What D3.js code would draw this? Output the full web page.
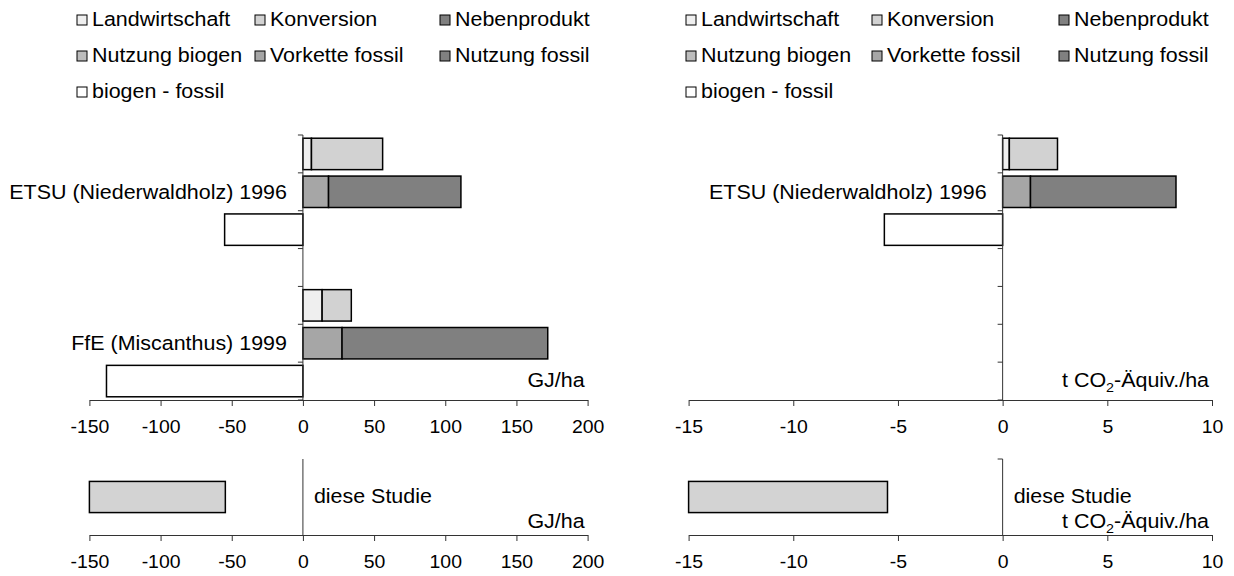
<!DOCTYPE html>
<html><head><meta charset="utf-8">
<script src="https://cdn.jsdelivr.net/npm/d3@7"></script>
<style>body{margin:0;background:#fff}svg{display:block}text{font-family:"Liberation Sans",Arial,sans-serif;fill:#000}</style>
</head><body><svg id="c" width="1234" height="576"></svg>
<script>
// ---------- data ----------
const studies = ["ETSU (Niederwaldholz) 1996", "FfE (Miscanthus) 1999"];
const legendLabels = ["Landwirtschaft","Konversion","Nebenprodukt","Nutzung biogen","Vorkette fossil","Nutzung fossil","biogen - fossil"];
const legendColors = ["#efefef","#d2d2d2","#808080","#bdbdbd","#a6a6a6","#808080","#ffffff"];
// energy, GJ/ha (per study)
const landwirtschaftGJ = [6, 13.5];
const konversionGJ = [50, 20.5];
const vorketteFossilGJ = [18, 27.5];
const nutzungFossilGJ = [93, 144.5];
const biogenMinusFossilGJ = [-55, -138];
// greenhouse gases, t CO2-Äquiv./ha (FfE not reported)
const landwirtschaftCO2 = [0.32, null];
const konversionCO2 = [2.3, null];
const vorketteFossilCO2 = [1.33, null];
const nutzungFossilCO2 = [6.95, null];
const biogenMinusFossilCO2 = [-5.65, null];
// this study: range
const dieseStudieGJ = [-150, -54.5];
const dieseStudieCO2 = [-15, -5.5];
const ticksGJ = [-150,-100,-50,0,50,100,150,200];
const ticksCO2 = [-15,-10,-5,0,5,10];
const rowIds = ["s0-bio","s0-fos","s0-diff","gap","s1-bio","s1-fos","s1-diff"];

const svg = d3.select("#c");
const FS = 19.5, SX = 1.1, TFS = 18, TSX = 1.08;
const AX = "#333";

function addText(g, x, y, str, anchor) {
  return g.append("text")
    .attr("transform", `translate(${x},${y}) scale(${SX},1)`)
    .attr("text-anchor", anchor || "start").attr("dy", "0.35em")
    .attr("font-size", FS).text(str);
}

function legend(cols) {
  const g = svg.append("g");
  legendLabels.forEach((lab, i) => {
    const r = Math.floor(i / 3), c = i % 3;
    const tx = cols[c], base = 26 + r * 36;
    g.append("rect").attr("x", tx - 15).attr("y", base - 11).attr("width", 10).attr("height", 10)
      .attr("fill", legendColors[i]).attr("stroke", "#000").attr("stroke-width", 1);
    g.append("text").attr("transform", `translate(${tx},${base}) scale(${SX},1)`)
      .attr("font-size", FS).text(lab);
  });
}

function styleAxis(axg) {
  axg.select(".domain").attr("stroke", AX);
  axg.selectAll(".tick line").attr("stroke", AX);
  axg.selectAll("text").attr("font-size", TFS).attr("font-family", "Liberation Sans, Arial, sans-serif")
    .attr("fill", "#000").attr("y", 0).attr("dy", "0.35em")
    .attr("transform", `translate(0,27) scale(${TSX},1)`);
}

function unitLabel(g, xr, yc, unit) {
  const t = g.append("text").attr("transform", `translate(${xr},${yc}) scale(${SX},1)`)
    .attr("dy", "0.35em").attr("text-anchor", "end").attr("font-size", FS);
  if (unit === "GJ") { t.text("GJ/ha"); return; }
  t.append("tspan").text("t CO");
  t.append("tspan").attr("font-size", 13).attr("dy", 5).text("2");
  t.append("tspan").attr("dy", -5).text("-Äquiv./ha");
}

function panel(opts) {
  const x = d3.scaleLinear().domain(opts.domain).range(opts.range);
  const y = d3.scaleBand().domain(rowIds).range([135, 400]).paddingInner(0.17).paddingOuter(0.085);
  const g = svg.append("g");
  const segs = [];
  opts.studies.forEach((s, i) => {
    if (opts.biogen[0][i] == null) return;
    let acc = 0;
    opts.biogen.forEach((arr, k) => { const v = arr[i]; segs.push({row:"s"+i+"-bio", a:acc, b:acc+v, c:opts.bioColors[k]}); acc += v; });
    acc = 0;
    opts.fossil.forEach((arr, k) => { const v = arr[i]; segs.push({row:"s"+i+"-fos", a:acc, b:acc+v, c:opts.fosColors[k]}); acc += v; });
    segs.push({row:"s"+i+"-diff", a:opts.diff[i], b:0, c:"#ffffff"});
  });
  g.selectAll("rect.bar").data(segs).join("rect").attr("class","bar")
    .attr("x", d => x(Math.min(d.a, d.b))).attr("width", d => Math.abs(x(d.b) - x(d.a)))
    .attr("y", d => y(d.row)).attr("height", y.bandwidth())
    .attr("fill", d => d.c).attr("stroke", "#000").attr("stroke-width", 1.5);
  // y axis (category boundaries)
  const step = y.step();
  const bounds = rowIds.map((r) => y(r) - step * y.paddingInner() / 2);
  bounds.push(400);
  g.append("line").attr("x1", x(0)).attr("x2", x(0)).attr("y1", 135).attr("y2", 400).attr("stroke", AX);
  g.selectAll("line.yt").data(bounds).join("line").attr("class","yt")
    .attr("x1", x(0) - 5).attr("x2", x(0)).attr("y1", d => d).attr("y2", d => d).attr("stroke", AX);
  opts.studies.forEach((s, i) => {
    if (!opts.showLabel[i]) return;
    addText(g, x(0) - 16, y("s"+i+"-fos") + y.bandwidth()/2, s, "end");
  });
  // x axis
  const ax = d3.axisBottom(x).tickValues(opts.ticks).tickSize(6).tickSizeOuter(0).tickFormat(d => String(d));
  styleAxis(g.append("g").attr("transform","translate(0,400)").call(ax));
  unitLabel(g, opts.range[1] - 3, 380, opts.unit);

  // bottom: this study
  const yb = d3.scaleBand().domain(["d"]).range([459, 535]).paddingInner(0.59).paddingOuter(0.295);
  g.append("rect").attr("x", x(opts.study[0])).attr("width", x(opts.study[1]) - x(opts.study[0]))
    .attr("y", yb("d")).attr("height", yb.bandwidth())
    .attr("fill","#d3d3d3").attr("stroke","#000").attr("stroke-width",1.5);
  g.append("line").attr("x1", x(0)).attr("x2", x(0)).attr("y1", 459).attr("y2", 535).attr("stroke", AX);
  if (opts.stub) g.append("line").attr("x1", x(0)-5).attr("x2", x(0)).attr("y1", 459).attr("y2", 459).attr("stroke", AX);
  addText(g, x(0) + 11, 496, "diese Studie");
  styleAxis(g.append("g").attr("transform","translate(0,535)").call(ax));
  unitLabel(g, opts.range[1] - 3, 521, opts.unit);
}

legend([92, 270, 455]);
legend([701, 887, 1074]);

panel({domain:[-150,200], range:[89.4,587.6], ticks:ticksGJ, studies, showLabel:[true,true], stub:false,
  biogen:[landwirtschaftGJ, konversionGJ], bioColors:[legendColors[0], legendColors[1]],
  fossil:[vorketteFossilGJ, nutzungFossilGJ], fosColors:[legendColors[4], legendColors[5]],
  diff:biogenMinusFossilGJ, study:dieseStudieGJ, unit:"GJ"});
panel({domain:[-15,10], range:[688.6,1212], ticks:ticksCO2, studies, showLabel:[true,false], stub:true,
  biogen:[landwirtschaftCO2, konversionCO2], bioColors:[legendColors[0], legendColors[1]],
  fossil:[vorketteFossilCO2, nutzungFossilCO2], fosColors:[legendColors[4], legendColors[5]],
  diff:biogenMinusFossilCO2, study:dieseStudieCO2, unit:"CO2"});
</script></body></html>
